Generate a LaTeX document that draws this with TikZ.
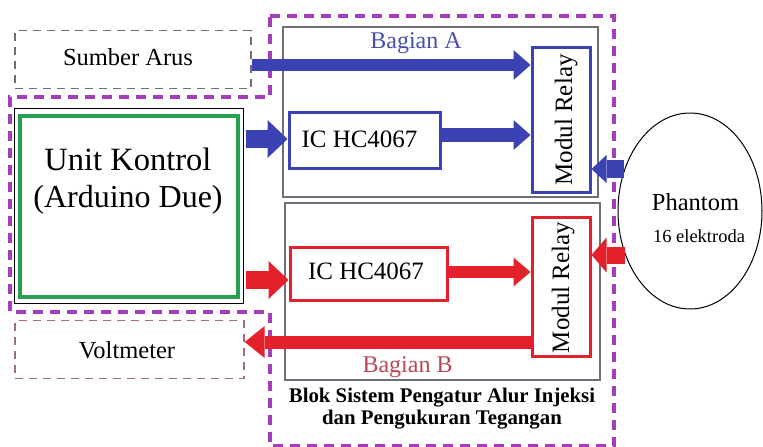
\documentclass[tikz,border=0pt]{standalone}
\usepackage{fontspec}
\setmainfont{Liberation Serif}
\usetikzlibrary{arrows.meta,shapes.geometric}
\definecolor{cblue}{RGB}{58,66,180}
\definecolor{cred}{RGB}{228,32,42}
\definecolor{cgreen}{RGB}{40,160,80}
\definecolor{cpurple}{RGB}{165,60,185}
\definecolor{cgray}{RGB}{110,110,120}
\definecolor{cmauve}{RGB}{160,110,130}
\definecolor{txtA}{RGB}{72,78,172}
\definecolor{txtB}{RGB}{185,70,85}
\tikzset{
  box/.style={draw, rectangle, inner sep=0pt},
  dbox/.style={box, line width=1.3pt, dash pattern=on 8pt off 6pt},
  part/.style={box, draw=cgray, line width=1.1pt},
  bluebox/.style={box, draw=cblue, line width=3pt},
  redbox/.style={box, draw=cred, line width=3pt},
  lbl/.style={anchor=base, inner sep=0pt, font=\fontsize{24.5}{28}\selectfont},
  barrow/.style n args={3}{line width=#1, -{Triangle[width=#2, length=#3, line width=0pt]}},
}
\begin{document}
\begin{tikzpicture}[x=1pt,y=-1pt]
\useasboundingbox (0,0) rectangle (763,447);
% purple dashed outline
\draw[cpurple, line width=4pt, dash pattern=on 10pt off 7pt]
  (270,16) -- (614,16) -- (614,446) -- (270,446) -- (270,312) -- (10,312) -- (10,97) -- (270,97) -- cycle;
% left blocks
\node[dbox, draw=cgray, minimum width=236pt, minimum height=58pt] (sumber) at (133,59.5) {};
\node[lbl] (sumbertxt) at (128,65) {Sumber Arus};
\node[box, line width=1pt, minimum width=229pt, minimum height=195pt] (unit) at (128.5,205.5) {};
\node[box, draw=cgreen, line width=3.5pt, minimum width=218pt, minimum height=181pt] (unitin) at (129,206.5) {};
\node[lbl, font=\fontsize{32.5}{36}\selectfont] (unit1) at (128,170) {Unit Kontrol};
\node[lbl, font=\fontsize{32}{36}\selectfont] (unit2) at (128,207) {(Arduino Due)};
\node[dbox, draw=cmauve, minimum width=229pt, minimum height=58pt] (volt) at (129.5,349.5) {};
\node[lbl] (volttxt) at (127,358) {Voltmeter};
% parts
\node[part, minimum width=315pt, minimum height=170pt] (bagA) at (440.5,112) {};
\node[part, minimum width=315pt, minimum height=177pt] (bagB) at (442.5,291.5) {};
\node[lbl, text=txtA, font=\fontsize{24}{28}\selectfont] (bagAtxt) at (416,48) {Bagian A};
\node[lbl, text=txtB, font=\fontsize{24}{28}\selectfont] (bagBtxt) at (407.5,372) {Bagian B};
\node[bluebox, minimum width=151pt, minimum height=56pt] (icA) at (364.5,140) {};
\node[lbl, font=\fontsize{25}{28}\selectfont] (icAtxt) at (359.5,147) {IC HC4067};
\node[bluebox, minimum width=58pt, minimum height=145pt] (relayA) at (561,119.5) {};
\node[lbl, rotate=90, font=\fontsize{25}{28}\selectfont] (relayAtxt) at (572,120) {Modul Relay};
\node[redbox, minimum width=157pt, minimum height=53pt] (icB) at (368.5,273.5) {};
\node[lbl, font=\fontsize{25}{28}\selectfont] (icBtxt) at (366,279) {IC HC4067};
\node[redbox, minimum width=58pt, minimum height=139pt] (relayB) at (561,287) {};
\node[lbl, rotate=90, font=\fontsize{25}{28}\selectfont] (relayBtxt) at (569,287.5) {Modul Relay};
% phantom
\node[draw, ellipse, line width=1pt, minimum width=144pt, minimum height=196pt, inner sep=0pt] (phantom) at (690,211) {};
\node[lbl, font=\fontsize{24.5}{28}\selectfont] (phtxt) at (695.5,210) {Phantom};
\node[lbl, font=\fontsize{18.5}{22}\selectfont] (eltxt) at (699,242) {16 elektroda};
% title
\node[lbl, font=\bfseries\fontsize{20.8}{22}\selectfont] (t1) at (442,402) {Blok Sistem Pengatur Alur Injeksi};
\node[lbl, font=\bfseries\fontsize{20.8}{22}\selectfont] (t2) at (442,424) {dan Pengukuran Tegangan};
% arrows
\draw[cblue, barrow={12pt}{30pt}{17pt}] (sumber.east |- 0,65) -- (relayA.west |- 0,65);
\draw[cblue, barrow={18pt}{38pt}{20pt}] (unit.east |- 0,139) ++(2,0) -- (icA.west |- 0,139);
\draw[cblue, barrow={14pt}{30pt}{17pt}] (icA.east |- 0,135) -- (relayA.west |- 0,135);
\draw[cblue, barrow={18pt}{28pt}{15pt}] (phantom.west |- 0,169) ++(6,0) -- (relayA.east |- 0,169);
\draw[cred, barrow={18pt}{38pt}{20pt}] (unit.east |- 0,280) ++(2,0) -- (icB.west |- 0,280);
\draw[cred, barrow={12pt}{29pt}{17pt}] (icB.east |- 0,272) -- (relayB.west |- 0,272);
\draw[cred, barrow={17pt}{35pt}{15pt}] (phantom.west |- 0,255) ++(7,0) -- (relayB.east |- 0,255);
\draw[cred, barrow={13pt}{32pt}{20pt}] (relayB.west |- 0,342) -- (volt.east |- 0,342);
\end{tikzpicture}
\end{document}
